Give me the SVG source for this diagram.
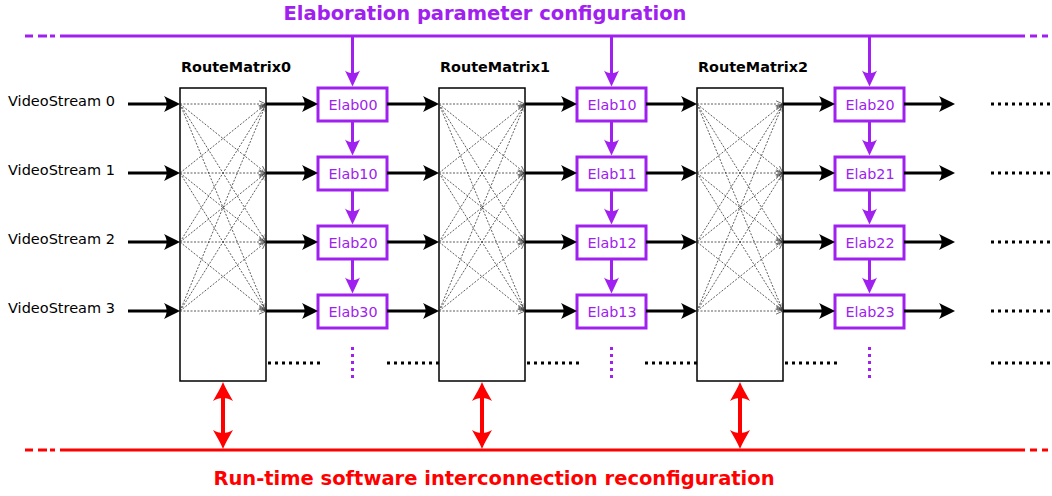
<svg xmlns="http://www.w3.org/2000/svg" xmlns:xlink="http://www.w3.org/1999/xlink" width="1052" height="496" viewBox="0 0 1052 496">
<style>
.blk{stroke:#000;stroke-width:3;fill:none}
.pur{stroke:#a020f0;stroke-width:3;fill:none}
.red{stroke:#ff0000;stroke-width:3;fill:none}
.redv{stroke:#ff0000;stroke-width:4;fill:none}
.dots{stroke:#000;stroke-width:3;stroke-dasharray:3 4;fill:none}
.pdots{stroke:#a020f0;stroke-width:3;stroke-dasharray:3 4;fill:none}
.mat{fill:#fff;stroke:#000;stroke-width:1.5}
.elab{fill:#fff;stroke:#a020f0;stroke-width:3}
.xl{stroke:#333;stroke-width:0.8;stroke-dasharray:2 1.5;fill:none}
.lbl{font-family:'DejaVu Sans',sans-serif;font-size:14.5px;fill:#000}
.mlbl{font-family:'DejaVu Sans',sans-serif;font-size:14.4px;font-weight:bold;fill:#000}
.etxt{font-family:'DejaVu Sans',sans-serif;font-size:14.3px;fill:#a020f0;text-anchor:middle}
.ttl{font-family:'DejaVu Sans',sans-serif;font-size:19.5px;font-weight:bold;text-anchor:middle}
</style>
<defs>
<marker id="ab" viewBox="-17 -9 18 18" refX="-9" refY="0" markerWidth="18" markerHeight="18" markerUnits="userSpaceOnUse" orient="auto">
<path d="M0,0 C-5,-2.5 -11,-5.5 -16,-8 C-12.5,-3 -12.5,3 -16,8 C-11,5.5 -5,2.5 0,0 Z" fill="#000"/>
</marker>
<marker id="ap" viewBox="-17 -9 18 18" refX="-9" refY="0" markerWidth="18" markerHeight="18" markerUnits="userSpaceOnUse" orient="auto">
<path d="M0,0 C-5,-2.5 -11,-5 -16,-7.5 C-12.5,-3 -12.5,3 -16,7.5 C-11,5 -5,2.5 0,0 Z" fill="#a020f0"/>
</marker>
<marker id="ar" viewBox="-21 -11 22 22" refX="-10" refY="0" markerWidth="22" markerHeight="22" markerUnits="userSpaceOnUse" orient="auto-start-reverse">
<path d="M0,0 C-6,-2.5 -13,-6.5 -19,-10 C-15,-4 -15,4 -19,10 C-13,6.5 -6,2.5 0,0 Z" fill="#ff0000"/>
</marker>
<marker id="ax" viewBox="-8 -4 9 8" refX="0" refY="0" markerWidth="9" markerHeight="8" markerUnits="userSpaceOnUse" orient="auto">
<path d="M-7,-3.2 L0,0 L-7,3.2" fill="none" stroke="#333" stroke-width="0.7"/>
</marker>
<g id="xbar">
<line class="xl" x1="0" y1="0" x2="86" y2="0" marker-end="url(#ax)"/>
<line class="xl" x1="0" y1="0" x2="86" y2="69" marker-end="url(#ax)"/>
<line class="xl" x1="0" y1="0" x2="86" y2="138" marker-end="url(#ax)"/>
<line class="xl" x1="0" y1="0" x2="86" y2="207" marker-end="url(#ax)"/>
<line class="xl" x1="0" y1="69" x2="86" y2="0" marker-end="url(#ax)"/>
<line class="xl" x1="0" y1="69" x2="86" y2="69" marker-end="url(#ax)"/>
<line class="xl" x1="0" y1="69" x2="86" y2="138" marker-end="url(#ax)"/>
<line class="xl" x1="0" y1="69" x2="86" y2="207" marker-end="url(#ax)"/>
<line class="xl" x1="0" y1="138" x2="86" y2="0" marker-end="url(#ax)"/>
<line class="xl" x1="0" y1="138" x2="86" y2="69" marker-end="url(#ax)"/>
<line class="xl" x1="0" y1="138" x2="86" y2="138" marker-end="url(#ax)"/>
<line class="xl" x1="0" y1="138" x2="86" y2="207" marker-end="url(#ax)"/>
<line class="xl" x1="0" y1="207" x2="86" y2="0" marker-end="url(#ax)"/>
<line class="xl" x1="0" y1="207" x2="86" y2="69" marker-end="url(#ax)"/>
<line class="xl" x1="0" y1="207" x2="86" y2="138" marker-end="url(#ax)"/>
<line class="xl" x1="0" y1="207" x2="86" y2="207" marker-end="url(#ax)"/>
</g>
</defs>
<rect width="1052" height="496" fill="#fff"/>

<g id="title-top">
<text class="ttl" x="485" y="20" fill="#a020f0">Elaboration parameter configuration</text>
</g>
<g id="title-bottom">
<text class="ttl" x="494" y="485" fill="#ff0000">Run-time software interconnection reconfiguration</text>
</g>

<g id="bus-top">
<line class="pur" x1="25" y1="36" x2="33" y2="36"/>
<line class="pur" x1="38" y1="36" x2="47" y2="36"/>
<line class="pur" x1="50" y1="36" x2="55" y2="36"/>
<line class="pur" x1="60" y1="36" x2="1025" y2="36"/>
<line class="pur" x1="1030" y1="36" x2="1037" y2="36"/>
<line class="pur" x1="1042" y1="36" x2="1048" y2="36"/>
</g>
<g id="bus-bottom">
<line class="red" x1="25" y1="450" x2="33" y2="450"/>
<line class="red" x1="38" y1="450" x2="47" y2="450"/>
<line class="red" x1="50" y1="450" x2="55" y2="450"/>
<line class="red" x1="60" y1="450" x2="1025" y2="450"/>
<line class="red" x1="1030" y1="450" x2="1037" y2="450"/>
<line class="red" x1="1042" y1="450" x2="1048" y2="450"/>
</g>

<g id="labels">
<text class="lbl" x="8" y="106">VideoStream 0</text>
<text class="lbl" x="8" y="175">VideoStream 1</text>
<text class="lbl" x="8" y="244">VideoStream 2</text>
<text class="lbl" x="8" y="313">VideoStream 3</text>
</g>

<g id="RouteMatrix0">
<rect class="mat" x="180" y="88" width="86" height="293"/>
<use xlink:href="#xbar" href="#xbar" x="180" y="104"/>
<text class="mlbl" x="181" y="72">RouteMatrix0</text>
</g>
<g id="RouteMatrix1">
<rect class="mat" x="439" y="88" width="86" height="293"/>
<use xlink:href="#xbar" href="#xbar" x="439" y="104"/>
<text class="mlbl" x="440" y="72">RouteMatrix1</text>
</g>
<g id="RouteMatrix2">
<rect class="mat" x="697" y="88" width="86" height="293"/>
<use xlink:href="#xbar" href="#xbar" x="697" y="104"/>
<text class="mlbl" x="698" y="72">RouteMatrix2</text>
</g>

<g id="Elab-col0">
<g id="e00"><rect class="elab" x="318" y="88" width="69" height="33"/><text class="etxt" x="353" y="109.5">Elab00</text></g>
<g id="e10a"><rect class="elab" x="318" y="157" width="69" height="33"/><text class="etxt" x="353" y="178.5">Elab10</text></g>
<g id="e20a"><rect class="elab" x="318" y="226" width="69" height="33"/><text class="etxt" x="353" y="247.5">Elab20</text></g>
<g id="e30"><rect class="elab" x="318" y="295" width="69" height="33"/><text class="etxt" x="353" y="316.5">Elab30</text></g>
</g>
<g id="Elab-col1">
<g id="e10b"><rect class="elab" x="577" y="88" width="69" height="33"/><text class="etxt" x="612" y="109.5">Elab10</text></g>
<g id="e11"><rect class="elab" x="577" y="157" width="69" height="33"/><text class="etxt" x="612" y="178.5">Elab11</text></g>
<g id="e12"><rect class="elab" x="577" y="226" width="69" height="33"/><text class="etxt" x="612" y="247.5">Elab12</text></g>
<g id="e13"><rect class="elab" x="577" y="295" width="69" height="33"/><text class="etxt" x="612" y="316.5">Elab13</text></g>
</g>
<g id="Elab-col2">
<g id="e20b"><rect class="elab" x="835" y="88" width="69" height="33"/><text class="etxt" x="870" y="109.5">Elab20</text></g>
<g id="e21"><rect class="elab" x="835" y="157" width="69" height="33"/><text class="etxt" x="870" y="178.5">Elab21</text></g>
<g id="e22"><rect class="elab" x="835" y="226" width="69" height="33"/><text class="etxt" x="870" y="247.5">Elab22</text></g>
<g id="e23"><rect class="elab" x="835" y="295" width="69" height="33"/><text class="etxt" x="870" y="316.5">Elab23</text></g>
</g>

<g id="connectors">
<g id="row0">
<line class="blk" x1="128" y1="104" x2="171" y2="104" marker-end="url(#ab)"/>
<line class="blk" x1="266" y1="104" x2="309" y2="104" marker-end="url(#ab)"/>
<line class="blk" x1="387" y1="104" x2="430" y2="104" marker-end="url(#ab)"/>
<line class="blk" x1="525" y1="104" x2="568" y2="104" marker-end="url(#ab)"/>
<line class="blk" x1="646" y1="104" x2="688" y2="104" marker-end="url(#ab)"/>
<line class="blk" x1="783" y1="104" x2="826" y2="104" marker-end="url(#ab)"/>
<line class="blk" x1="904" y1="104" x2="946" y2="104" marker-end="url(#ab)"/>
<line class="dots" x1="991" y1="104" x2="1052" y2="104"/>
</g>
<g id="row1">
<line class="blk" x1="128" y1="173" x2="171" y2="173" marker-end="url(#ab)"/>
<line class="blk" x1="266" y1="173" x2="309" y2="173" marker-end="url(#ab)"/>
<line class="blk" x1="387" y1="173" x2="430" y2="173" marker-end="url(#ab)"/>
<line class="blk" x1="525" y1="173" x2="568" y2="173" marker-end="url(#ab)"/>
<line class="blk" x1="646" y1="173" x2="688" y2="173" marker-end="url(#ab)"/>
<line class="blk" x1="783" y1="173" x2="826" y2="173" marker-end="url(#ab)"/>
<line class="blk" x1="904" y1="173" x2="946" y2="173" marker-end="url(#ab)"/>
<line class="dots" x1="991" y1="173" x2="1052" y2="173"/>
</g>
<g id="row2">
<line class="blk" x1="128" y1="242" x2="171" y2="242" marker-end="url(#ab)"/>
<line class="blk" x1="266" y1="242" x2="309" y2="242" marker-end="url(#ab)"/>
<line class="blk" x1="387" y1="242" x2="430" y2="242" marker-end="url(#ab)"/>
<line class="blk" x1="525" y1="242" x2="568" y2="242" marker-end="url(#ab)"/>
<line class="blk" x1="646" y1="242" x2="688" y2="242" marker-end="url(#ab)"/>
<line class="blk" x1="783" y1="242" x2="826" y2="242" marker-end="url(#ab)"/>
<line class="blk" x1="904" y1="242" x2="946" y2="242" marker-end="url(#ab)"/>
<line class="dots" x1="991" y1="242" x2="1052" y2="242"/>
</g>
<g id="row3">
<line class="blk" x1="128" y1="311" x2="171" y2="311" marker-end="url(#ab)"/>
<line class="blk" x1="266" y1="311" x2="309" y2="311" marker-end="url(#ab)"/>
<line class="blk" x1="387" y1="311" x2="430" y2="311" marker-end="url(#ab)"/>
<line class="blk" x1="525" y1="311" x2="568" y2="311" marker-end="url(#ab)"/>
<line class="blk" x1="646" y1="311" x2="688" y2="311" marker-end="url(#ab)"/>
<line class="blk" x1="783" y1="311" x2="826" y2="311" marker-end="url(#ab)"/>
<line class="blk" x1="904" y1="311" x2="946" y2="311" marker-end="url(#ab)"/>
<line class="dots" x1="991" y1="311" x2="1052" y2="311"/>
</g>
<g id="row-more">
<line class="dots" x1="268" y1="363" x2="320" y2="363"/>
<line class="dots" x1="387" y1="363" x2="439" y2="363"/>
<line class="dots" x1="527" y1="363" x2="579" y2="363"/>
<line class="dots" x1="645" y1="363" x2="697" y2="363"/>
<line class="dots" x1="785" y1="363" x2="837" y2="363"/>
<line class="dots" x1="991" y1="363" x2="1052" y2="363"/>
<line class="pdots" x1="352.5" y1="347" x2="352.5" y2="379"/>
<line class="pdots" x1="611.5" y1="347" x2="611.5" y2="379"/>
<line class="pdots" x1="869.5" y1="347" x2="869.5" y2="379"/>
</g>
<g id="config">
<line class="pur" x1="352.5" y1="36" x2="352.5" y2="77.5" marker-end="url(#ap)"/>
<line class="pur" x1="352.5" y1="121" x2="352.5" y2="146.5" marker-end="url(#ap)"/>
<line class="pur" x1="352.5" y1="190" x2="352.5" y2="215.5" marker-end="url(#ap)"/>
<line class="pur" x1="352.5" y1="259" x2="352.5" y2="284.5" marker-end="url(#ap)"/>
<line class="pur" x1="611.5" y1="36" x2="611.5" y2="77.5" marker-end="url(#ap)"/>
<line class="pur" x1="611.5" y1="121" x2="611.5" y2="146.5" marker-end="url(#ap)"/>
<line class="pur" x1="611.5" y1="190" x2="611.5" y2="215.5" marker-end="url(#ap)"/>
<line class="pur" x1="611.5" y1="259" x2="611.5" y2="284.5" marker-end="url(#ap)"/>
<line class="pur" x1="869.5" y1="36" x2="869.5" y2="77.5" marker-end="url(#ap)"/>
<line class="pur" x1="869.5" y1="121" x2="869.5" y2="146.5" marker-end="url(#ap)"/>
<line class="pur" x1="869.5" y1="190" x2="869.5" y2="215.5" marker-end="url(#ap)"/>
<line class="pur" x1="869.5" y1="259" x2="869.5" y2="284.5" marker-end="url(#ap)"/>
</g>
<g id="reconf">
<line class="redv" x1="223" y1="392" x2="223" y2="439" marker-start="url(#ar)" marker-end="url(#ar)"/>
<line class="redv" x1="482" y1="392" x2="482" y2="439" marker-start="url(#ar)" marker-end="url(#ar)"/>
<line class="redv" x1="740" y1="392" x2="740" y2="439" marker-start="url(#ar)" marker-end="url(#ar)"/>
</g>
</g>
</svg>
